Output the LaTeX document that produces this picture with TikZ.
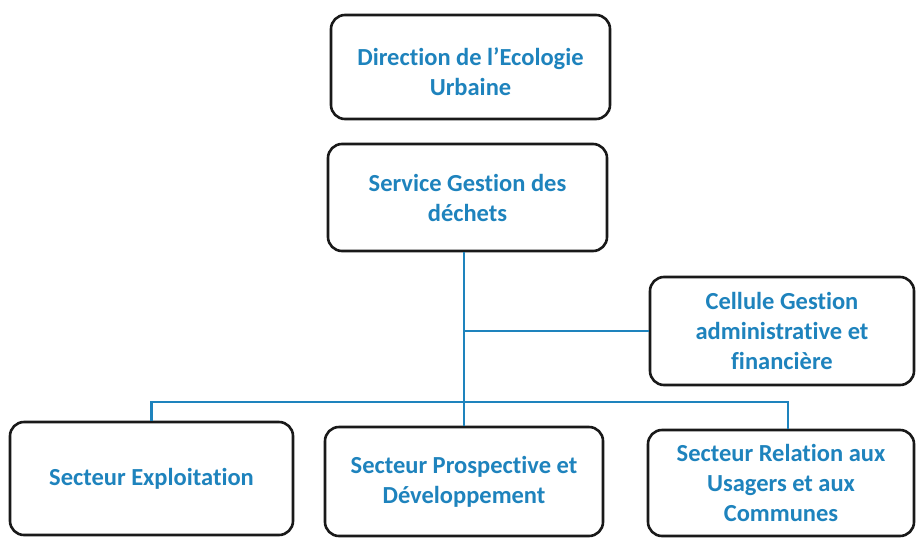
\documentclass[tikz,border=0pt]{standalone}
\usepackage{fontspec}
\setmainfont[Ligatures=NoCommon]{Carlito}
\definecolor{orgblue}{HTML}{1E83BD}
\begin{document}
\begin{tikzpicture}[x=1pt,y=-1pt,
  txt/.style={align=center, text=orgblue, font=\fontsize{24.5}{30}\selectfont\bfseries, inner sep=0pt},
  box/.style={draw=black!90, line width=2.6pt, rounded corners=14pt, fill=white, txt},
  link/.style={draw=orgblue, line width=2.8pt}]
\useasboundingbox (0,0) rectangle (917,538);
\node[box, minimum width=279pt, minimum height=104pt] (dir) at (470.5,67) {};
\node[txt] (dirtext) at ([yshift=-5pt]dir.center) {Direction de l’Ecologie\\Urbaine};
\node[box, minimum width=279pt, minimum height=107pt] (svc) at (467.5,197.5) {Service Gestion des\\déchets};
\node[box, minimum width=264pt, minimum height=108pt] (cel) at (782,331) {Cellule Gestion\\administrative et\\financière};
\node[box, minimum width=283pt, minimum height=113pt] (exp) at (151.5,478.5) {Secteur Exploitation};
\node[box, minimum width=278pt, minimum height=109pt] (pro) at (464,481.5) {Secteur Prospective et\\Développement};
\node[box, minimum width=266pt, minimum height=106pt] (rel) at (781,483) {Secteur Relation aux\\Usagers et aux\\Communes};
\coordinate (top) at (pro.north |- svc.south);
\coordinate (br) at (pro.north |- cel.west);
\coordinate (bus) at (pro.north |- 0,402);
\coordinate (rtop) at ([xshift=7pt]rel.north);
\draw[link] (top) -- (pro.north);
\draw[link] (br) -- (cel.west);
\draw[link] (exp.north) |- (bus) -| (rtop);
\end{tikzpicture}
\end{document}
